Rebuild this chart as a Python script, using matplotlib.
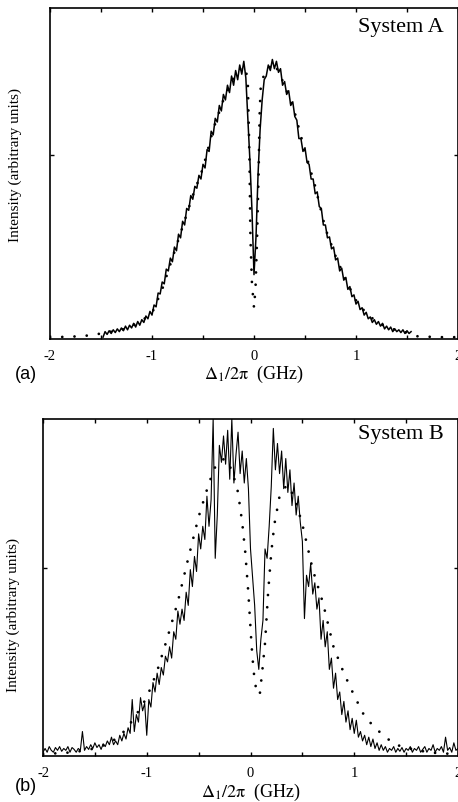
import numpy as np
import matplotlib.pyplot as plt

plt.rcParams['font.family'] = ['Liberation Serif', 'DejaVu Serif']
plt.rcParams['mathtext.fontset'] = 'stix'
plt.rcParams['axes.unicode_minus'] = False

# System A: measured trace, x = -1.48 ... 1.54 step 0.02
a_x0, a_dx = -1.48, 0.02
a_meas = [0.01, 0.04, 0.025, 0.045, 0.03, 0.05, 0.035, 0.055, 0.04, 0.06,
          0.045, 0.07, 0.05, 0.075, 0.06, 0.085, 0.065, 0.095, 0.075, 0.105,
          0.09, 0.125, 0.11, 0.15, 0.13, 0.185, 0.175, 0.25, 0.245, 0.31,
          0.30, 0.38, 0.37, 0.44, 0.42, 0.50, 0.48, 0.57, 0.55, 0.64,
          0.62, 0.71, 0.70, 0.78, 0.76, 0.83, 0.82, 0.89, 0.87, 0.95,
          0.93, 1.03, 1.02, 1.13, 1.11, 1.20, 1.18, 1.27, 1.24, 1.33,
          1.30, 1.38, 1.34, 1.43, 1.38, 1.46, 1.41, 1.49, 1.44, 1.51,
          1.42, 1.20, 0.97, 0.70, 0.35, 0.56, 0.90, 1.14, 1.30, 1.41,
          1.43, 1.49, 1.46, 1.52, 1.47, 1.51, 1.45, 1.47, 1.38, 1.40,
          1.33, 1.35, 1.27, 1.29, 1.21, 1.19, 1.09, 1.09, 1.02, 1.04,
          0.96, 0.95, 0.87, 0.87, 0.79, 0.80, 0.72, 0.71, 0.62, 0.62,
          0.55, 0.555, 0.49, 0.50, 0.43, 0.44, 0.37, 0.385, 0.32, 0.335,
          0.27, 0.285, 0.23, 0.24, 0.19, 0.205, 0.16, 0.17, 0.13, 0.145,
          0.11, 0.12, 0.09, 0.105, 0.08, 0.095, 0.07, 0.085, 0.055, 0.07,
          0.05, 0.065, 0.04, 0.055, 0.04, 0.05, 0.035, 0.05, 0.03, 0.045,
          0.03, 0.04]

# System A: theory (dotted)
a_th_x = [-2.0, -1.8, -1.6, -1.4, -1.3, -1.2, -1.1, -1.0, -0.9, -0.8, -0.7,
          -0.6, -0.5, -0.4, -0.3, -0.2, -0.12, -0.08, -0.06, -0.045, -0.035,
          -0.02, 0.0, 0.015, 0.03, 0.045, 0.055, 0.065, 0.08, 0.12, 0.2, 0.3,
          0.4, 0.5, 0.6, 0.7, 0.8, 0.9, 1.0, 1.1, 1.2, 1.3, 1.4, 1.5, 1.6,
          1.8, 2.0]
a_th_y = [0.01, 0.012, 0.02, 0.04, 0.05, 0.07, 0.10, 0.14, 0.27, 0.44, 0.61,
          0.78, 0.93, 1.14, 1.30, 1.42, 1.48, 1.47, 1.38, 1.0, 0.55,
          0.30, 0.17, 0.28, 0.55, 0.90, 1.22, 1.36, 1.41, 1.46, 1.50, 1.38,
          1.23, 1.02, 0.83, 0.60, 0.45, 0.32, 0.21, 0.14, 0.095, 0.065, 0.048,
          0.035, 0.015, 0.01, 0.01]

# System B: measured trace, x = -2.00 ... 2.00 step 0.02
b_x0, b_dx = -2.0, 0.02
b_meas = [0.02, 0.04, 0.02, 0.05, 0.03, 0.02, 0.045, 0.03, 0.05, 0.025,
          0.04, 0.03, 0.05, 0.02, 0.045, 0.035, 0.02, 0.04, 0.03, 0.13,
          0.03, 0.05, 0.035, 0.06, 0.04, 0.07, 0.045, 0.06, 0.035, 0.065,
          0.05, 0.08, 0.06, 0.10, 0.06, 0.08, 0.06, 0.11, 0.08, 0.12,
          0.09, 0.15, 0.12, 0.30, 0.13, 0.22, 0.18, 0.31, 0.24, 0.28,
          0.11, 0.30, 0.26, 0.39, 0.34, 0.44, 0.38, 0.47, 0.43, 0.53,
          0.50, 0.58, 0.52, 0.66, 0.62, 0.77, 0.70, 0.78, 0.72, 0.87,
          0.80, 0.99, 0.90, 1.06, 0.98, 1.18, 1.10, 1.22, 1.15, 1.38,
          1.22, 1.36, 1.79, 1.05, 1.28, 1.65, 1.56, 1.70, 1.55, 1.73,
          1.47, 1.79, 1.45, 1.60, 1.72, 1.50, 1.62, 1.45, 1.58, 1.42,
          1.10, 0.95, 0.80, 0.56, 0.46, 0.62, 0.72, 1.10, 1.05, 1.22,
          1.43, 1.74, 1.52, 1.66, 1.50, 1.62, 1.42, 1.58, 1.40, 1.52,
          1.33, 1.45, 1.28, 1.38, 1.24, 1.14, 0.73, 0.96, 0.90, 1.02,
          0.86, 0.92, 0.78, 0.84, 0.62, 0.72, 0.58, 0.66, 0.46, 0.52,
          0.36, 0.44, 0.30, 0.34, 0.22, 0.29, 0.18, 0.24, 0.14, 0.20,
          0.12, 0.19, 0.10, 0.13, 0.08, 0.11, 0.06, 0.10, 0.05, 0.09,
          0.04, 0.07, 0.03, 0.06, 0.03, 0.05, 0.02, 0.04, 0.03, 0.05,
          0.02, 0.04, 0.025, 0.045, 0.02, 0.04, 0.03, 0.05, 0.02, 0.04,
          0.03, 0.05, 0.02, 0.035, 0.05, 0.02, 0.04, 0.03, 0.06, 0.02,
          0.04, 0.03, 0.05, 0.02, 0.10, 0.03, 0.045, 0.02, 0.07, 0.03,
          0.04]

# System B: theory (dotted)
b_th_x = [-2.0, -1.7, -1.5, -1.4, -1.3, -1.2, -1.1, -1.0, -0.9, -0.8, -0.7,
          -0.6, -0.5, -0.4, -0.33, -0.25, -0.18, -0.12, -0.08, -0.05, -0.02,
          0.01, 0.03, 0.06, 0.09, 0.115, 0.14, 0.17, 0.2, 0.23, 0.28, 0.35,
          0.42, 0.5, 0.6, 0.7, 0.8, 0.9, 1.0, 1.1, 1.2, 1.3, 1.4, 1.6, 1.8,
          2.0]
b_th_y = [0.01, 0.02, 0.04, 0.06, 0.09, 0.14, 0.22, 0.31, 0.45, 0.63, 0.82,
          1.05, 1.27, 1.45, 1.55, 1.58, 1.52, 1.40, 1.24, 1.08, 0.86,
          0.59, 0.45, 0.33, 0.33, 0.46, 0.60, 0.87, 1.08, 1.23, 1.38, 1.44,
          1.38, 1.23, 0.99, 0.81, 0.58, 0.44, 0.32, 0.21, 0.15, 0.10, 0.06,
          0.03, 0.015, 0.01]

fig = plt.figure(figsize=(4.58, 8.03), dpi=100)
axA = fig.add_axes([50/458, 463/803, 408/458, 331/803])
axB = fig.add_axes([43/458, 46/803, 415/458, 337/803])

panels = [
    (axA, a_x0, a_dx, a_meas, a_th_x, a_th_y, 1.8, 'System A', 1.1, 0.93),
    (axB, b_x0, b_dx, b_meas, b_th_x, b_th_y, 1.79, 'System B', 0.8, 0.945),
]

for ax, x0, dx, meas, thx, thy, ytop, name, lw, ty in panels:
    xm = x0 + dx * np.arange(len(meas))
    ax.plot(xm, meas, color='black', lw=lw, zorder=3)
    ax.plot(thx, thy, color='black', lw=2.0, ls=(0, (0.01, 4.4)),
            dash_capstyle='round', zorder=4)
    ax.set_xlim(-2, 2)
    ax.set_ylim(0, ytop)
    ax.set_xticks([-2, -1, 0, 1, 2])
    ax.set_xticks([-1.5, -0.5, 0.5, 1.5], minor=True)
    ax.set_yticks([1.0])
    ax.set_yticklabels([])
    ax.tick_params(which='both', direction='in', top=True, right=True,
                   length=3, width=1, labelsize=10.5, pad=7)
    for s in ax.spines.values():
        s.set_linewidth(1.2)
    ax.set_xlabel(r'$\Delta_1/2\mathrm{\pi}$  (GHz)', fontsize=13)
    ax.set_ylabel('Intensity (arbitrary units)', fontsize=11)
    ax.text(0.966, ty, name, transform=ax.transAxes,
            ha='right', va='baseline', fontsize=16)

axA.xaxis.set_label_coords(0.5, -0.073)
axB.xaxis.set_label_coords(0.5, -0.075)
axA.yaxis.set_label_coords(-0.069, 0.53)
axB.yaxis.set_label_coords(-0.055, 0.42)

fig.text(15/458, (803-379)/803, '(a)', family='Liberation Sans', fontsize=13,
         va='baseline')
fig.text(15/458, (803-791)/803, '(b)', family='Liberation Sans', fontsize=13,
         va='baseline')

fig.savefig('out.png', dpi=100)
